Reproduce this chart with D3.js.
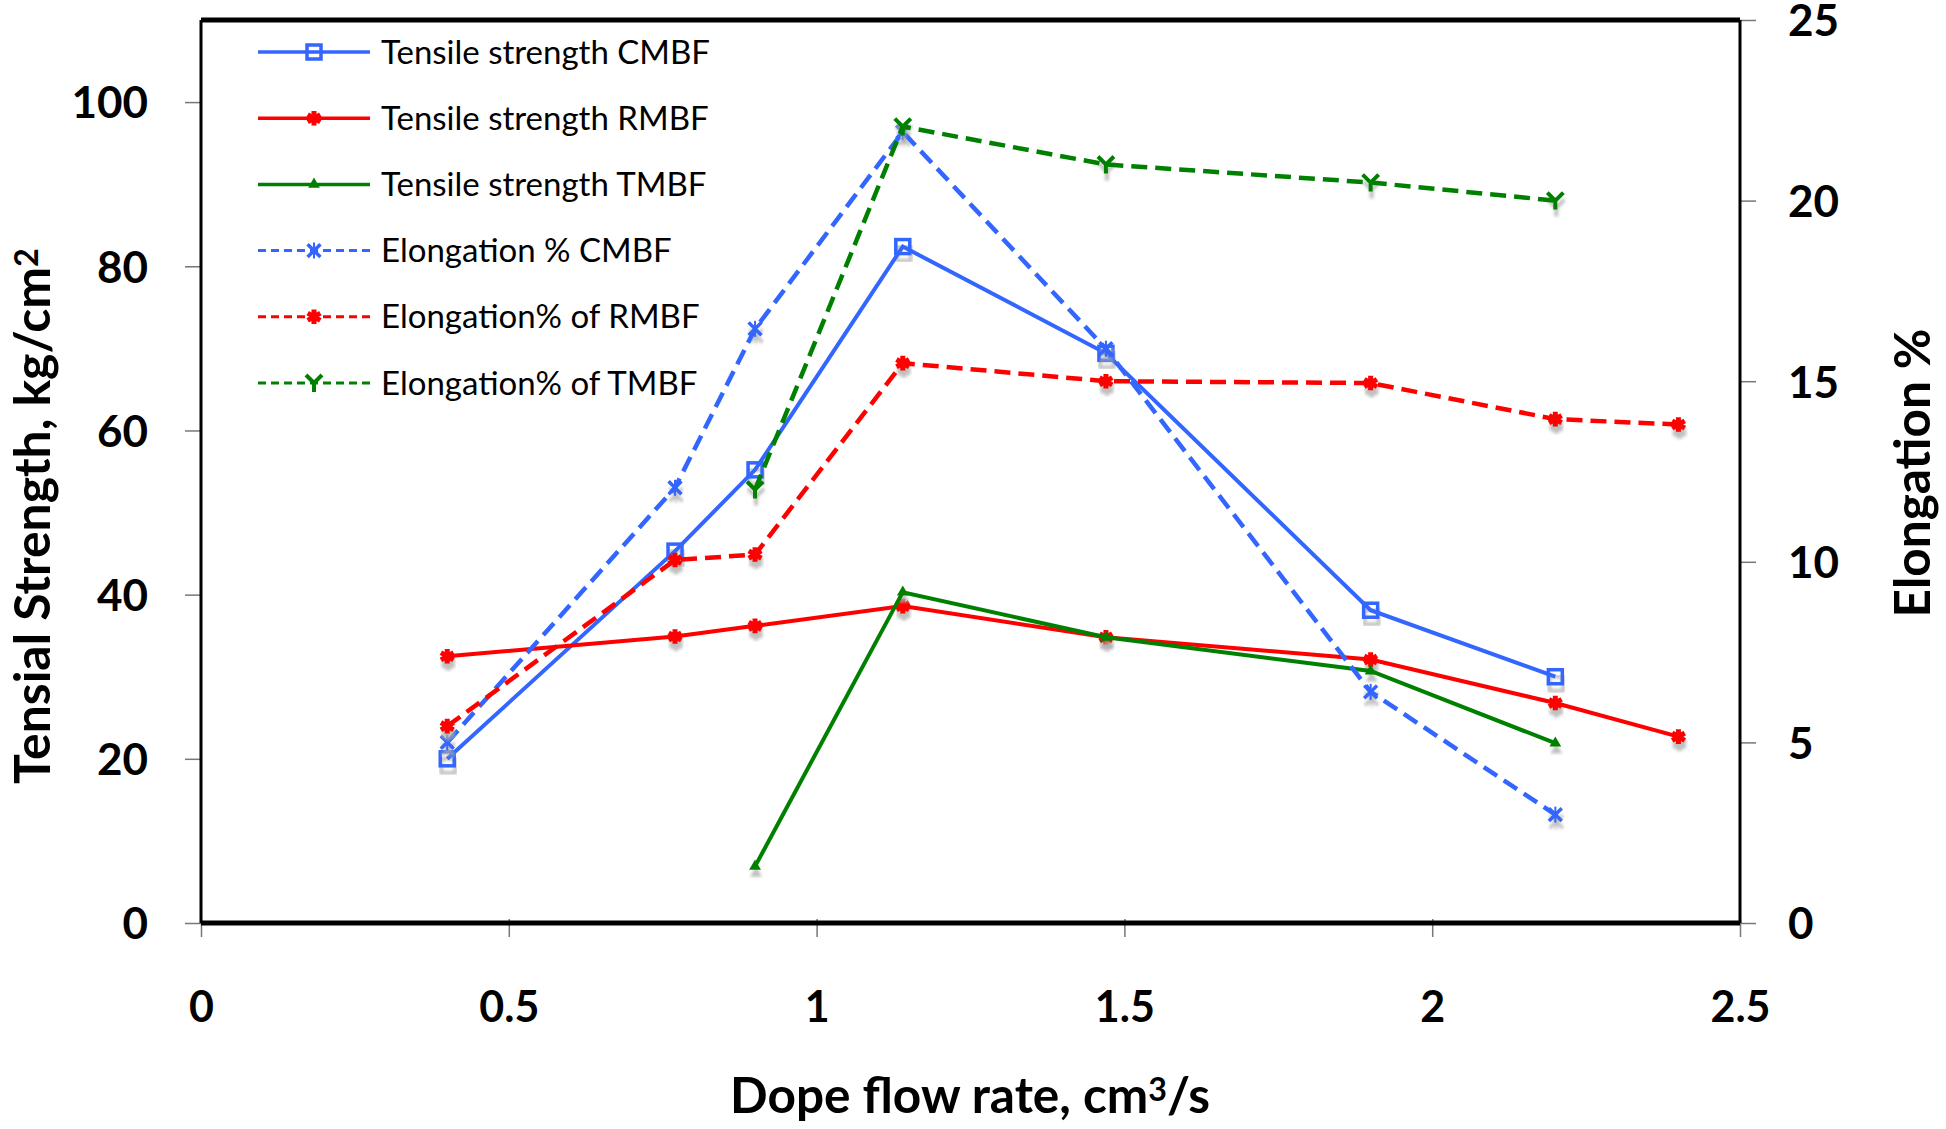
<!DOCTYPE html>
<html>
<head>
<meta charset="utf-8">
<script src="https://cdn.jsdelivr.net/npm/d3@7/dist/d3.min.js"></script>
<style>
  html, body { margin: 0; padding: 0; background: #fff; }
  svg { display: block; }
  text { font-family: Lato, "Open Sans", sans-serif; fill: #000; }
</style>
</head>
<body>
<svg id="chart" width="1946" height="1129"></svg>
<script>
// ---------- data ----------
const flowRate    = [0.4, 0.77, 0.9, 1.14, 1.47, 1.9, 2.2, 2.4];
const tensileCMBF = [20.0, 45.3, 55.2, 82.4, 69.4, 38.1, 30.0, null];
const tensileRMBF = [32.5, 34.9, 36.2, 38.6, 34.8, 32.1, 26.8, 22.7];
const tensileTMBF = [null, null, 6.9, 40.3, 34.8, 30.7, 21.9, null];
const elongCMBF   = [5.0, 12.05, 16.45, 21.9, 15.9, 6.4, 3.0, null];
const elongRMBF   = [5.45, 10.05, 10.2, 15.5, 15.0, 14.95, 13.95, 13.8];
const elongTMBF   = [null, null, 12.0, 22.05, 21.0, 20.5, 20.0, null];

const xTicks      = [0, 0.5, 1, 1.5, 2, 2.5];
const leftTicks   = [0, 20, 40, 60, 80, 100];
const rightTicks  = [0, 5, 10, 15, 20, 25];

const seriesNames = ["Tensile strength CMBF", "Tensile strength RMBF", "Tensile strength TMBF",
                     "Elongation % CMBF", "Elongation% of RMBF", "Elongation% of TMBF"];

// ---------- layout ----------
const svg = d3.select("#chart");
const L = 201, R = 1740, T = 20, B = 923;

const x  = d3.scaleLinear().domain([0, 2.5]).range([L, R]);
const yL = d3.scaleLinear().domain([0, 110]).range([B, T]);
const yR = d3.scaleLinear().domain([0, 25]).range([B, T]);

const BLUE = "#3366ff", RED = "#ff0000", GREEN = "#008000";

const series = [
  {name: seriesNames[0], vals: tensileCMBF, y: yL, color: BLUE,  dash: null,   marker: "square"},
  {name: seriesNames[1], vals: tensileRMBF, y: yL, color: RED,   dash: null,   marker: "star"},
  {name: seriesNames[2], vals: tensileTMBF, y: yL, color: GREEN, dash: null,   marker: "triangle"},
  {name: seriesNames[3], vals: elongCMBF,   y: yR, color: BLUE,  dash: "16,8", marker: "x"},
  {name: seriesNames[4], vals: elongRMBF,   y: yR, color: RED,   dash: "16,8", marker: "star"},
  {name: seriesNames[5], vals: elongTMBF,   y: yR, color: GREEN, dash: "16,8", marker: "chevron"}
];

// fit a text element's length to a target width (in its own coordinates)
function fit(sel, target) {
  const w = sel.node().getBBox().width;
  const fs = parseFloat(sel.style("font-size"));
  sel.style("font-size", (fs * target / w) + "px");
}

const defs = svg.append("defs");
defs.append("filter").attr("id", "blur").append("feGaussianBlur").attr("stdDeviation", 1.6);

// ---------- axes ----------
const xAxis = svg.append("g").attr("transform", `translate(0,${B})`)
  .call(d3.axisBottom(x).tickValues(xTicks).tickSize(14).tickFormat(d3.format("")));
xAxis.select(".domain").remove();
xAxis.selectAll(".tick line").attr("stroke", "#777").attr("stroke-width", 1.5).attr("y1", -4);
xAxis.selectAll(".tick text").attr("dy", 0).attr("y", 99)
  .style("font-size", "43px").style("font-weight", "700");

const yAxisL = svg.append("g").attr("transform", `translate(${L},0)`)
  .call(d3.axisLeft(yL).tickValues(leftTicks).tickSize(16));
yAxisL.select(".domain").remove();
yAxisL.selectAll(".tick line").attr("stroke", "#777").attr("stroke-width", 1.5);
yAxisL.selectAll(".tick text").attr("x", -53).attr("dy", "0.36em")
  .style("font-size", "44px").style("font-weight", "700");

const yAxisR = svg.append("g").attr("transform", `translate(${R},0)`)
  .call(d3.axisRight(yR).tickValues(rightTicks).tickSize(16));
yAxisR.select(".domain").remove();
yAxisR.selectAll(".tick line").attr("stroke", "#777").attr("stroke-width", 1.5);
yAxisR.selectAll(".tick text").attr("x", 48).attr("dy", "0.36em")
  .style("font-size", "44px").style("font-weight", "700");

// plot frame
svg.append("line").attr("x1", L).attr("x2", R).attr("y1", T).attr("y2", T)
  .attr("stroke", "#000").attr("stroke-width", 5);
svg.append("line").attr("x1", L).attr("x2", R).attr("y1", B).attr("y2", B)
  .attr("stroke", "#000").attr("stroke-width", 5);
svg.append("line").attr("x1", L).attr("x2", L).attr("y1", T).attr("y2", B)
  .attr("stroke", "#000").attr("stroke-width", 3);
svg.append("line").attr("x1", R).attr("x2", R).attr("y1", T).attr("y2", B)
  .attr("stroke", "#000").attr("stroke-width", 3);

// axis titles
const lt = svg.append("text")
  .attr("transform", `translate(50,516) rotate(-90)`)
  .attr("text-anchor", "middle")
  .style("font-size", "46px").style("font-weight", "700");
lt.append("tspan").text("Tensial Strength, kg/cm");
lt.append("tspan").attr("dy", "-0.38em").style("font-size", "0.65em").text("2");
fit(lt, 536);

const rt = svg.append("text")
  .attr("transform", `translate(1930,473) rotate(-90)`)
  .attr("text-anchor", "middle")
  .style("font-size", "46px").style("font-weight", "700")
  .text("Elongation %");
fit(rt, 289);

const xt = svg.append("text")
  .attr("x", 970).attr("y", 1113)
  .attr("text-anchor", "middle")
  .style("font-size", "46px").style("font-weight", "700");
xt.append("tspan").text("Dope flow rate, cm");
xt.append("tspan").attr("dy", "-0.38em").style("font-size", "0.65em").text("3");
xt.append("tspan").attr("dy", "0.247em").text("/s");
fit(xt, 480);

// ---------- markers ----------
function drawMarker(g, type, cx, cy, color, shadow) {
  const col = shadow ? "#aaa" : color;
  const m = g.append("g").attr("transform", `translate(${cx},${cy})`);
  if (shadow) m.attr("filter", "url(#blur)").attr("opacity", 0.75);
  if (type === "square") {
    m.append("rect").attr("x", -7).attr("y", -7).attr("width", 14).attr("height", 14)
      .attr("fill", "none").attr("stroke", col).attr("stroke-width", 3.5);
  } else if (type === "star") {
    m.append("path").attr("d", d3.symbol(d3.symbolAsterisk, 150)())
      .attr("fill", "none").attr("stroke", col).attr("stroke-width", 5);
  } else if (type === "triangle") {
    m.append("path").attr("d", d3.symbol(d3.symbolTriangle, 60)()).attr("fill", col);
  } else if (type === "x") {
    m.append("path").attr("d", d3.symbol(d3.symbolTimes, 110)())
      .attr("fill", "none").attr("stroke", col).attr("stroke-width", 3.5);
    m.append("line").attr("y1", -8).attr("y2", 8).attr("stroke", col).attr("stroke-width", 2);
  } else if (type === "chevron") {
    m.append("path").attr("d", "M-8,-8 L0,0 L8,-8 M0,0 L0,9")
      .attr("fill", "none").attr("stroke", col).attr("stroke-width", 4);
  }
}

// ---------- series ----------
const plot = svg.append("g");
series.forEach(s => {
  const pts = flowRate.map((fx, i) => ({x: fx, v: s.vals[i]})).filter(d => d.v != null);
  const line = d3.line().x(d => x(d.x)).y(d => s.y(d.v));
  const gs = plot.append("g");
  pts.forEach(d => drawMarker(gs, s.marker, x(d.x) + 1, s.y(d.v) + 7, s.color, true));
  plot.append("path").datum(pts).attr("d", line)
    .attr("fill", "none").attr("stroke", s.color).attr("stroke-width", s.dash ? 4.5 : 4)
    .attr("stroke-dasharray", s.dash);
  const gm = plot.append("g");
  pts.forEach(d => drawMarker(gm, s.marker, x(d.x), s.y(d.v), s.color, false));
});

// ---------- legend ----------
const legend = svg.append("g");
series.forEach((s, i) => {
  const cy = 52 + i * 66.2;
  const row = legend.append("g");
  row.append("line").attr("x1", 258).attr("x2", 370).attr("y1", cy).attr("y2", cy)
    .attr("stroke", s.color).attr("stroke-width", s.dash ? 3 : 3.5)
    .attr("stroke-dasharray", s.dash ? "8,5" : null);
  drawMarker(row, s.marker, 314, cy, s.color, false);
  row.append("text").attr("x", 381).attr("y", cy).attr("dy", "0.35em")
    .style("font-size", "33px").text(s.name);
});
</script>
</body>
</html>
